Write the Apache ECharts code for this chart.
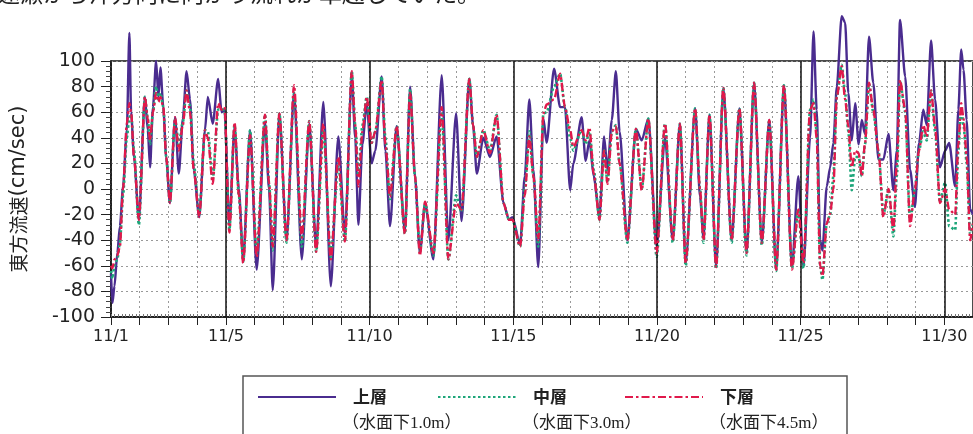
<!DOCTYPE html>
<html><head><meta charset="utf-8">
<script src="https://cdn.jsdelivr.net/npm/echarts@6/dist/echarts.min.js"></script>
<style>html,body{margin:0;padding:0;background:#fff}#c{width:973px;height:434px}</style>
</head><body><div id="c"></div>
<script>
// time in days (1.0 = 11/1 00:00)
const days = [1.00,1.05,1.12,1.22,1.31,1.42,1.55,1.64,1.70,1.80,1.97,2.18,2.28,2.36,2.46,2.57,2.65,2.72,2.82,2.92,3.05,3.23,3.36,3.50,3.63,3.75,3.88,4.07,4.27,4.37,4.54,4.73,4.85,4.95,5.12,5.30,5.45,5.60,5.84,6.07,6.36,6.50,6.63,6.86,7.11,7.37,7.64,7.90,8.14,8.39,8.65,8.91,9.14,9.38,9.50,9.61,9.75,9.90,10.07,10.20,10.42,10.55,10.71,10.94,11.23,11.41,11.58,11.75,11.93,12.22,12.51,12.74,13.01,13.20,13.47,13.60,13.73,13.96,14.19,14.42,14.66,14.85,14.97,15.24,15.40,15.56,15.70,15.87,16.05,16.16,16.42,16.63,16.80,16.98,17.09,17.38,17.52,17.65,17.80,18.00,18.16,18.28,18.43,18.57,18.70,18.97,19.27,19.47,19.70,19.99,20.28,20.55,20.80,21.00,21.33,21.50,21.62,21.83,22.06,22.31,22.60,22.87,23.12,23.38,23.65,23.91,24.15,24.42,24.70,24.92,25.10,25.33,25.45,25.56,25.68,25.76,25.91,26.03,26.14,26.26,26.43,26.55,26.66,26.78,26.90,27.02,27.13,27.24,27.38,27.53,27.71,27.88,28.06,28.23,28.35,28.46,28.64,28.81,28.98,29.12,29.27,29.39,29.54,29.68,29.85,30.03,30.17,30.38,30.49,30.59,30.67,30.78,30.90,31.00];
// 上層 (水面下1.0m)
const upper = [-66,-89,-76,-50,-29,2,46,122,60,25,-24,72,46,17,64,100,72,95,64,25,-11,56,12,55,92,70,15,-22,46,72,51,86,60,62,-28,48,0,-55,46,-63,52,0,-79,59,-40,75,-55,51,-45,68,-76,41,-35,88,40,-28,35,67,20,30,88,30,-29,49,-33,80,10,-50,-11,-55,89,-40,59,-25,86,50,12,40,25,41,-11,-24,-22,-43,10,70,15,-61,55,36,94,64,64,-1,20,56,22,38,10,-22,41,15,54,92,45,-40,47,38,55,-45,40,-40,51,-58,63,-6,-38,58,-61,79,-40,63,-50,83,-42,54,-63,81,-61,10,-61,40,123,62,-40,-48,2,17,36,80,135,130,75,38,67,35,54,43,119,83,23,23,43,-1,30,132,88,15,-14,36,62,50,116,70,17,30,36,2,62,109,93,54,-16,-20];
// 中層 (水面下3.0m)
const middle = [-64,-70,-60,-55,-42,-5,40,56,58,30,-28,72,55,35,60,80,70,75,64,25,-11,54,35,52,77,65,20,-20,46,45,8,62,62,62,-32,50,-5,-57,46,-50,58,5,-48,59,-42,75,-45,53,-49,46,-53,20,-41,92,50,10,50,72,36,45,88,40,-8,49,-35,78,10,-49,-12,-52,60,-55,-5,-18,86,50,25,46,30,58,-11,-24,-24,-45,0,45,10,-45,59,60,80,90,64,40,30,46,35,45,15,-24,30,5,45,50,20,-42,47,0,55,-53,51,-42,51,-60,63,0,-42,58,-62,79,-42,63,-52,83,-44,54,-64,81,-62,-16,-62,62,70,45,-60,-71,-27,-20,10,72,97,75,45,-1,25,25,10,35,82,60,30,-20,0,-37,10,84,60,-25,0,30,45,38,77,45,-10,5,-29,-32,30,63,50,20,-35,-27];
// 下層 (水面下4.5m)
const lower = [-60,-62,-55,-52,-45,0,51,67,60,25,-24,72,55,38,60,75,68,72,64,25,-11,56,30,50,77,60,15,-22,46,40,4,67,62,64,-34,52,-5,-58,42,-53,58,5,-45,59,-40,81,-38,53,-49,51,-55,25,-41,92,50,2,45,72,36,45,85,35,-6,49,-35,75,10,-52,-10,-50,64,-55,-11,-16,86,50,25,46,28,58,-11,-24,-24,-45,-5,41,10,-40,59,66,70,90,64,46,33,46,38,48,12,-24,30,4,45,49,20,-40,47,-1,55,-50,51,-40,51,-58,63,0,-40,58,-61,79,-40,63,-50,83,-42,54,-63,81,-63,-16,-58,62,67,40,-60,-68,-27,-19,0,72,96,70,49,17,30,28,10,35,83,62,30,-22,0,-32,20,85,62,-29,0,30,50,41,77,49,-11,0,-16,-20,35,67,55,25,-40,-27];

const dateLabelDays = [1, 5, 10, 15, 20, 25, 30];
const majorDays = [5, 10, 15, 20, 25, 30];
const seriesNames = ['上層', '中層', '下層'];
const seriesDepths = ['（水面下1.0m）', '（水面下3.0m）', '（水面下4.5m）'];
const seriesColors = ['#4a2c8f', '#1ea67a', '#e0194b'];
const yAxisTitle = '東方流速';
const yAxisUnit = '(cm/sec)';
const headText = '速瀬から沖方向に向かう流れが卓越していた。';

const chart = echarts.init(document.getElementById('c'), null, {renderer: 'canvas'});
const toPairs = arr => days.map((d, i) => [d, arr[i]]);
const dashes = ['solid', [2.5, 2.5], [8, 3, 2.5, 3]];
const widths = [2.4, 2.6, 2.4];

const legendX = [258, 438, 625];
const legendGraphics = [{
  type: 'rect', shape: {x: 243, y: 376, width: 604, height: 70},
  style: {fill: '#fff', stroke: '#555', lineWidth: 1.5}, z: 10
}];
seriesNames.forEach((n, i) => {
  const x0 = legendX[i];
  legendGraphics.push({
    type: 'line', shape: {x1: x0, y1: 397, x2: x0 + 78, y2: 397},
    style: {stroke: seriesColors[i], lineWidth: 2, lineDash: dashes[i] === 'solid' ? null : dashes[i]}, z: 11
  });
  legendGraphics.push({
    type: 'text', x: x0 + 95, y: 397,
    style: {text: n, font: 'bold 17px "Noto Sans CJK JP"', fill: '#222', verticalAlign: 'middle'}, z: 11
  });
  legendGraphics.push({
    type: 'text', x: x0 + 84, y: 424,
    style: {text: seriesDepths[i], font: '17px "Liberation Serif", "Noto Sans CJK JP"', fill: '#222', verticalAlign: 'middle'}, z: 11
  });
});
legendGraphics.push({
  type: 'text', x: -3, y: 5,
  style: {text: headText, font: '23px "Noto Sans CJK JP"', fill: '#222', verticalAlign: 'bottom'}, z: 11
});

const series = [upper, middle, lower].map((arr, i) => ({
  name: seriesNames[i], type: 'line', data: toPairs(arr), symbol: 'none', clip: false,
  smooth: 0.25, smoothMonotone: 'x',
  xAxisIndex: 0, yAxisIndex: 0, z: 3 + i,
  lineStyle: {color: seriesColors[i], width: widths[i], type: dashes[i]},
  animation: false
}));
series[0].markLine = {
  silent: true, symbol: ['none', 'none'], label: {show: false}, animation: false,
  lineStyle: {color: '#111', type: 'solid', width: 1.5},
  data: majorDays.map(d => ({xAxis: d}))
};

chart.setOption({
  animation: false,
  backgroundColor: '#fff',
  grid: {left: 111, top: 61, right: 0, bottom: 117, show: true, borderColor: '#111', borderWidth: 1.5},
  xAxis: [{
    type: 'value', min: 1, max: 31, interval: 1,
    axisLine: {show: true, onZero: false, lineStyle: {color: '#111', width: 1.5}},
    axisTick: {show: true, length: 8, lineStyle: {color: '#222'}},
    axisLabel: {
      formatter: v => dateLabelDays.includes(v) ? '11/' + v : '',
      fontSize: 16, fontFamily: 'DejaVu Sans', color: '#222', margin: 12, showMaxLabel: false
    },
    splitLine: {show: true, lineStyle: {type: [2, 3], color: '#999', width: 1}}
  }, {
    type: 'value', min: 1, max: 31, interval: 0.125, position: 'bottom', gridIndex: 0,
    axisLine: {show: false, onZero: false}, axisLabel: {show: false}, splitLine: {show: false},
    axisTick: {show: true, inside: true, length: 3, lineStyle: {color: '#777'}}
  }],
  yAxis: {
    type: 'value', min: -100, max: 100, interval: 20,
    axisLine: {show: true, onZero: false, lineStyle: {color: '#111', width: 1.5}},
    axisTick: {show: true, length: 10, lineStyle: {color: '#222'}},
    minorTick: {show: true, splitNumber: 5, length: 5, lineStyle: {color: '#444'}},
    axisLabel: {fontSize: 19, fontFamily: 'DejaVu Sans', color: '#222', margin: 16},
    splitLine: {show: true, lineStyle: {type: [2, 3], color: '#999', width: 1}},
    name: '{a|' + yAxisTitle + '}{b|' + yAxisUnit + '}',
    nameLocation: 'middle', nameRotate: 90, nameGap: 82,
    nameTextStyle: {
      rich: {
        a: {fontSize: 19, fontFamily: 'Noto Sans CJK JP', color: '#222'},
        b: {fontSize: 21, fontFamily: 'DejaVu Sans', color: '#222'}
      }
    }
  },
  series: series,
  graphic: legendGraphics
});
</script>
</body></html>
